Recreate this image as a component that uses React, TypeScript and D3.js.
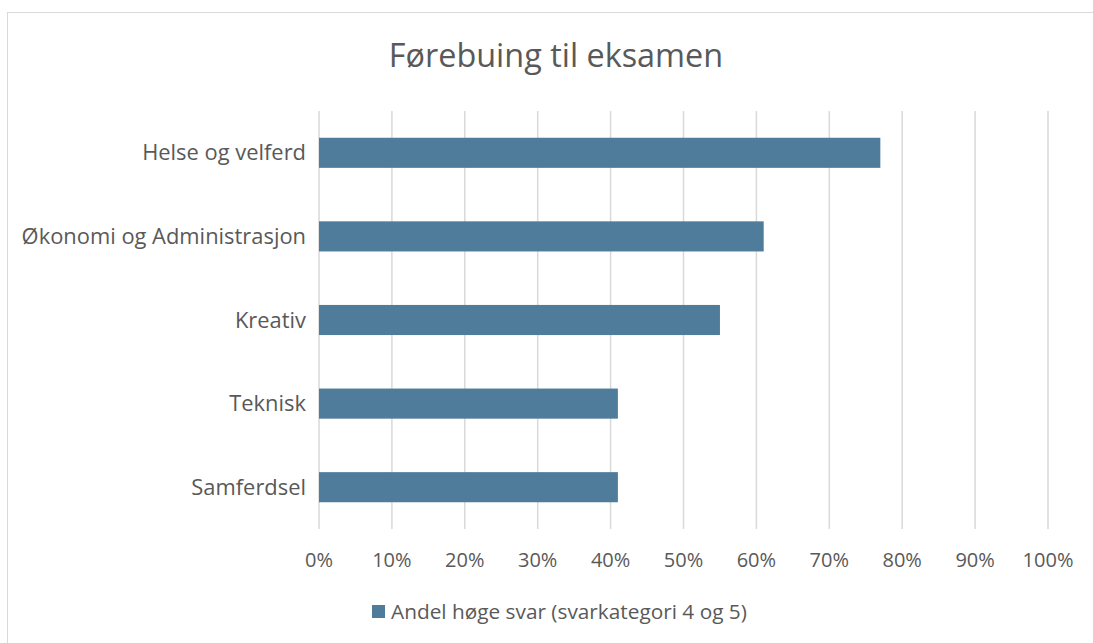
import React from "react";
import * as d3 from "d3";

const categories = ["Helse og velferd", "Økonomi og Administrasjon", "Kreativ", "Teknisk", "Samferdsel"];
const values = [0.77, 0.61, 0.55, 0.41, 0.41];
const ticks = [0, 0.1, 0.2, 0.3, 0.4, 0.5, 0.6, 0.7, 0.8, 0.9, 1.0];
const title = "Førebuing til eksamen";
const seriesName = "Andel høge svar (svarkategori 4 og 5)";

const W = 1093;
const H = 643;
const FONT = "'Open Sans', sans-serif";
const TEXT = "#595959";
const GRID = "#d9d9d9";
const BAR = "#4e7c9a";

export default function App() {
  const left = 319, right = 1048, top = 111, bottom = 529;
  const x = d3.scaleLinear().domain([0, 1]).range([left, right]);
  const y = d3.scaleBand<string>().domain(categories).range([top, bottom]).paddingInner(0.64).paddingOuter(0.32);
  const fmt = d3.format(".0%");
  return (
    <div style={{ position: "absolute", left: 0, top: 0 }}>
      <svg width={W} height={H} style={{ display: "block" }}>
        <rect x={0} y={0} width={W} height={H} fill="#fff" />
        <rect x={7.5} y={12.5} width={1100} height={700} fill="none" stroke={GRID} strokeWidth={1} />
        <text x={556} y={67} textAnchor="middle" fontFamily={FONT} fontSize={32.4} fill={TEXT}>{title}</text>
        {ticks.map((t) => (
          <line key={t} x1={x(t)} x2={x(t)} y1={top} y2={bottom} stroke={GRID} strokeWidth={1.5} />
        ))}
        {categories.map((c, i) => (
          <rect key={c} x={x(0)} y={y(c)!} width={x(values[i]) - x(0)} height={y.bandwidth()} fill={BAR} />
        ))}
        {categories.map((c) => (
          <text key={c} x={306} y={y(c)! + y.bandwidth() / 2} dy="0.35em" textAnchor="end" fontFamily={FONT} fontSize={21.9} fill={TEXT}>{c}</text>
        ))}
        {ticks.map((t) => (
          <text key={t} x={x(t)} y={560} dy="0.35em" textAnchor="middle" fontFamily={FONT} fontSize={20} fill={TEXT}>{fmt(t)}</text>
        ))}
        <rect x={372} y={605} width={13} height={13} fill={BAR} />
        <text x={391} y={612} dy="0.35em" fontFamily={FONT} fontSize={20.8} fill={TEXT}>{seriesName}</text>
      </svg>
    </div>
  );
}
